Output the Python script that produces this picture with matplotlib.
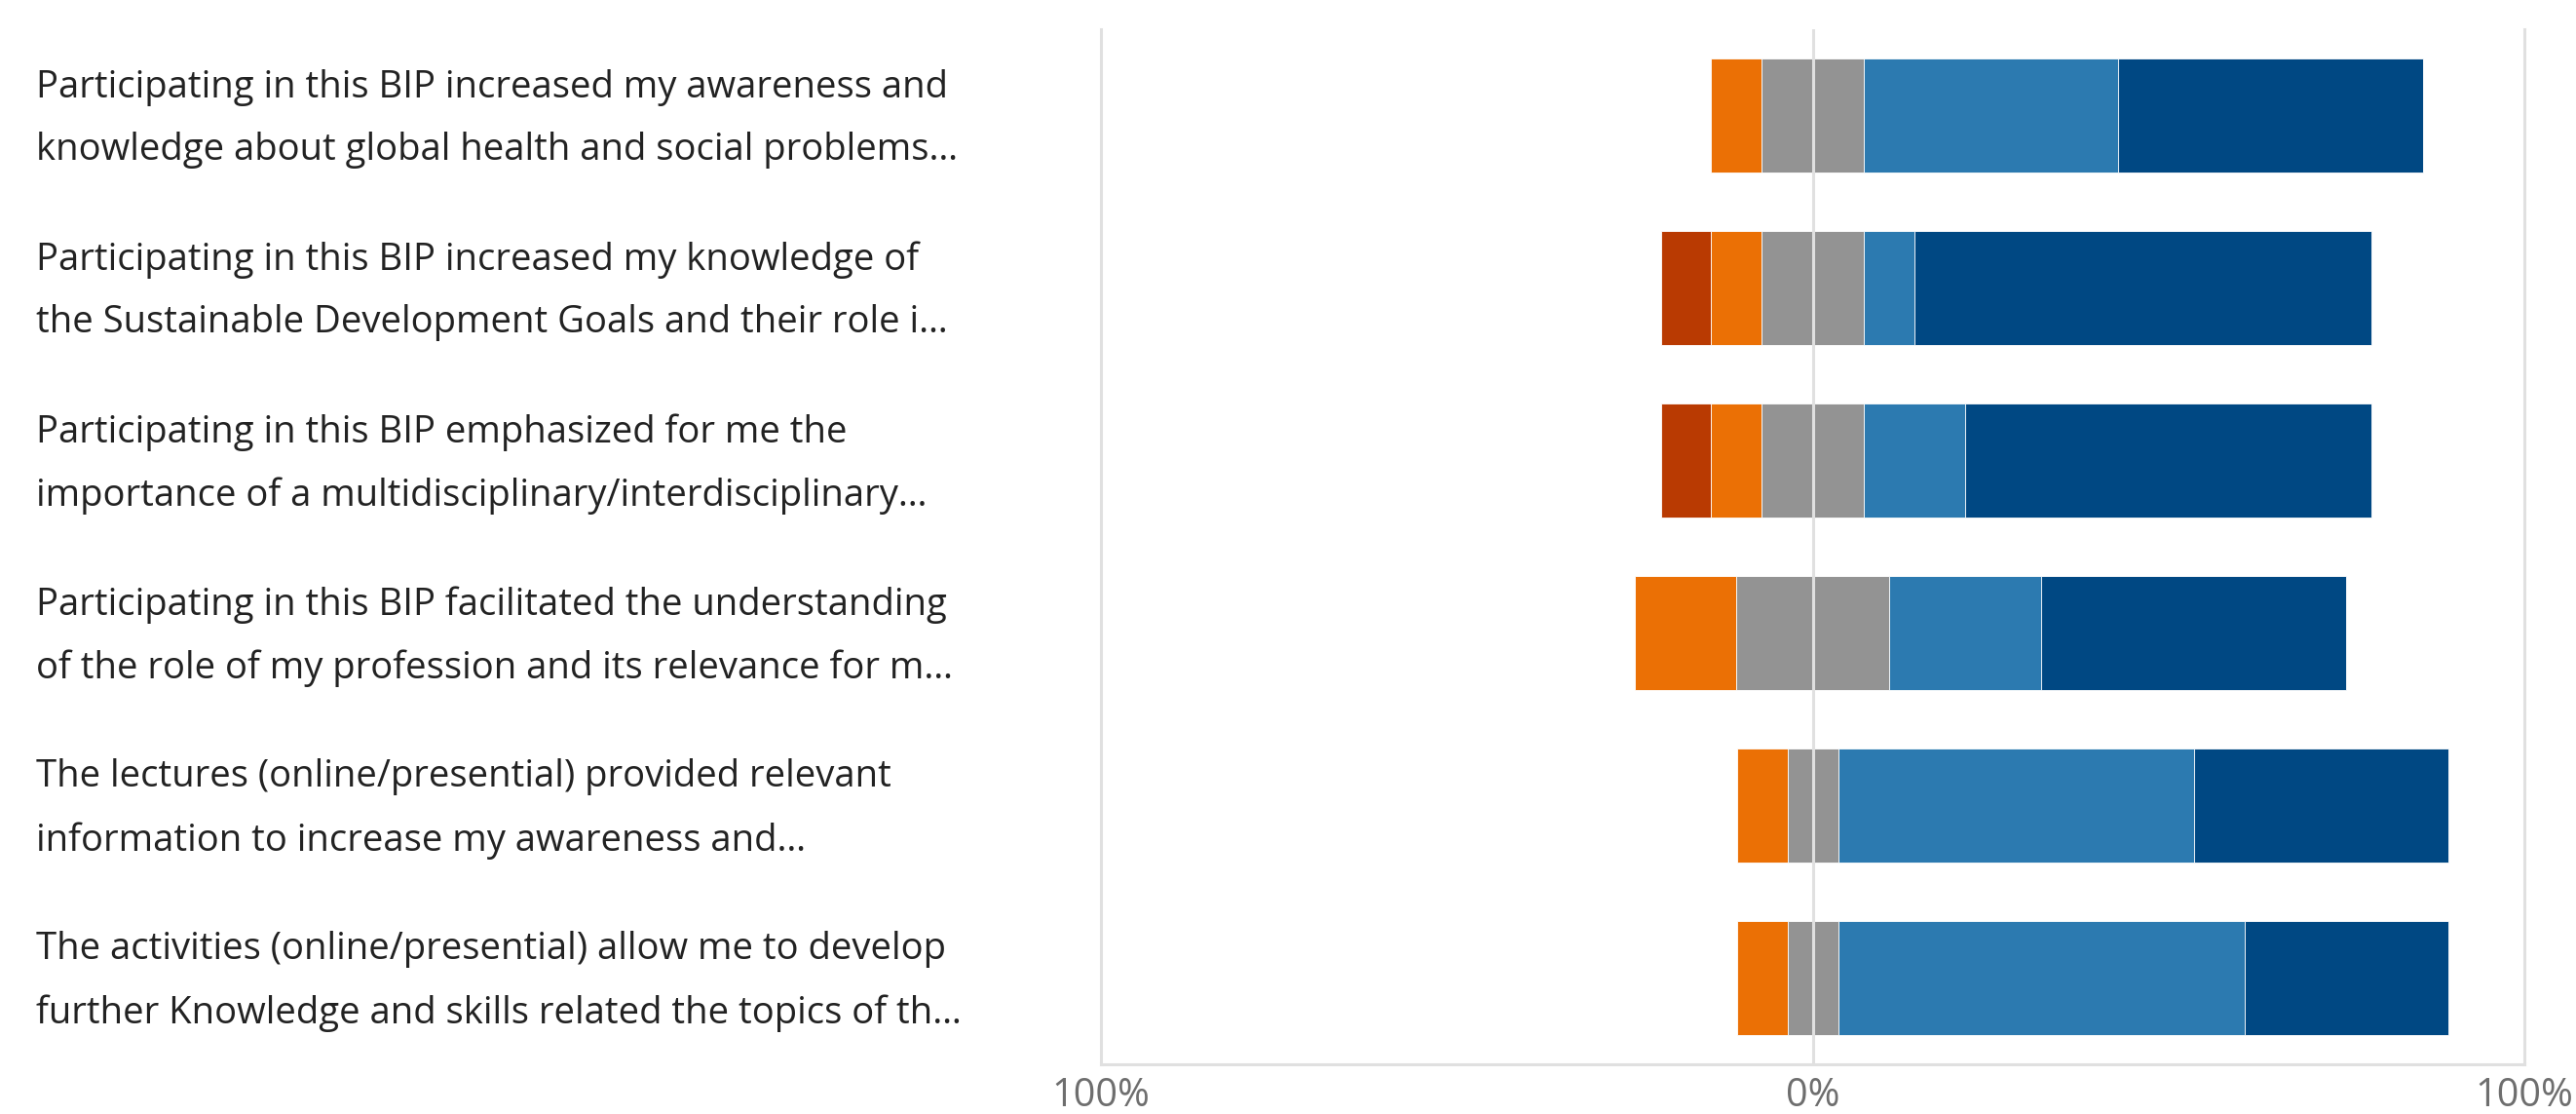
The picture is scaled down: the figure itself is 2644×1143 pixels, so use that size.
import numpy as np
import matplotlib
matplotlib.use("Agg")
import matplotlib.pyplot as plt
from matplotlib.transforms import blended_transform_factory

# statements (two visible lines each, truncated like the survey tool does)
statements = [
    "Participating in this BIP increased my awareness and\nknowledge about global health and social problems…",
    "Participating in this BIP increased my knowledge of\nthe Sustainable Development Goals and their role i…",
    "Participating in this BIP emphasized for me the\nimportance of a multidisciplinary/interdisciplinary…",
    "Participating in this BIP facilitated the understanding\nof the role of my profession and its relevance for m…",
    "The lectures (online/presential) provided relevant\ninformation to increase my awareness and…",
    "The activities (online/presential) allow me to develop\nfurther Knowledge and skills related the topics of th…",
]

# share of answers in %
strongly_disagree = [0.0, 7.1, 7.1, 0.0, 0.0, 0.0]
disagree = [7.1, 7.1, 7.1, 14.3, 7.1, 7.1]
neutral = [14.3, 14.3, 14.3, 21.4, 7.1, 7.1]
agree = [35.7, 7.1, 14.3, 21.4, 50.0, 57.1]
strongly_agree = [42.9, 64.3, 57.1, 42.9, 35.7, 28.6]

colors = ["#B93A02", "#EB7005", "#939393", "#2C7AB0", "#004883"]

tick_pos = [-100, 0, 100]
tick_labels = ["100%", "0%", "100%"]

fig = plt.figure(figsize=(26.44, 11.43), dpi=100)
ax = fig.add_axes([0.4274, 0.0446, 0.9800 - 0.4274, 0.974 - 0.0446])

y = np.arange(len(statements))
sd = np.array(strongly_disagree)
d = np.array(disagree)
n = np.array(neutral)
a = np.array(agree)
sa = np.array(strongly_agree)

# diverging layout: neutral split around zero
left = -(n / 2 + d + sd)
segments = [sd, d, n, a, sa]
for seg, col in zip(segments, colors):
    ax.barh(y, seg, left=left, height=0.66, color=col,
            edgecolor="white", linewidth=0.6, zorder=2)
    left = left + seg

ax.axvline(0, color="#e0e0e0", lw=2.2, zorder=3)

ax.set_xlim(-100, 100)
ax.set_ylim(len(statements) - 0.5, -0.5)
ax.set_xticks(tick_pos)
ax.set_xticklabels(tick_labels, fontsize=28.5, color="#6e6e6e", family="Open Sans")
ax.tick_params(axis="x", length=0, pad=9)
ax.set_yticks([])
for s in ["left", "right", "bottom"]:
    ax.spines[s].set_color("#e0e0e0")
    ax.spines[s].set_linewidth(2.2)
ax.spines["top"].set_visible(False)

trans = blended_transform_factory(fig.transFigure, ax.transData)
for yi, txt in zip(y, statements):
    ax.text(0.014, yi + 0.02, txt, transform=trans, ha="left", va="center",
            fontsize=27.5, color="#222222", family="Open Sans", linespacing=1.9)

fig.savefig("out.png", dpi=100, facecolor="white")
